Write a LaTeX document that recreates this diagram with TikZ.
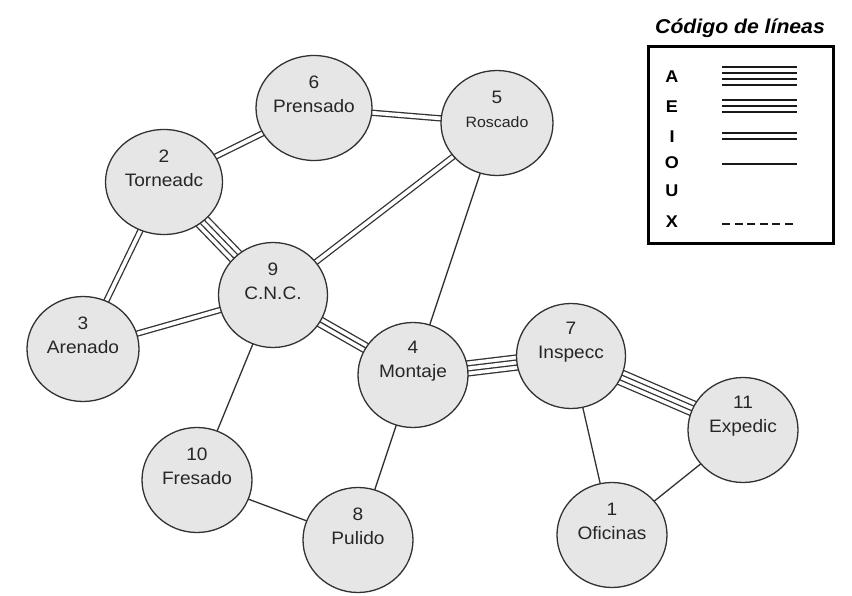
\documentclass[tikz,border=0pt]{standalone}
\usepackage{fontspec}
\setmainfont{Liberation Sans}[FakeStretch=1.06]
\usetikzlibrary{shapes.geometric}
\pgfdeclarelayer{bg}
\pgfdeclarelayer{links}
\pgfsetlayers{bg,links,main}
\definecolor{stationfill}{RGB}{230,230,230}
\definecolor{ink}{RGB}{50,50,50}
\begin{document}
\begin{tikzpicture}[x=1pt,y=-1pt,
  station/.style={ellipse, draw=ink, line width=1.3pt, fill=stationfill,
    minimum width=112pt, minimum height=105pt, inner sep=0pt},
  lbl/.style={align=center, inner sep=0pt, text=black!85,
    font=\fontsize{18}{24}\selectfont, yshift=14pt},
  % one, two, three and four parallel lines (codes O, I, E, A)
  linkO/.style={draw=ink, line width=1.3pt},
  linkI/.style={draw=ink, line width=6.3pt,
    postaction={draw=white, line width=3.7pt}},
  linkE/.style={draw=ink, line width=11.3pt,
    postaction={draw=white, line width=8.7pt},
    postaction={draw=ink, line width=1.3pt}},
  linkA/.style={draw=ink, line width=16.3pt,
    postaction={draw=white, line width=13.7pt},
    postaction={draw=ink, line width=6.3pt},
    postaction={draw=white, line width=3.7pt}},
  key/.style={font=\bfseries\fontsize{17}{20}\selectfont, inner sep=0pt},
  keyline/.style={draw=black!90, line width=1.6pt}
]
\begin{pgfonlayer}{bg}
  \fill[white] (0,0) rectangle (852,596);
\end{pgfonlayer}
\useasboundingbox (0,0) rectangle (852,596);

% stations
\node[station, minimum width=116pt] (n6) at (314,108) {};
\node[station] (n5) at (497,123) {};
\node[station, minimum width=117pt] (n2) at (164,182) {};
\node[station, minimum width=109pt] (n9) at (273,295) {};
\node[station] (n3) at (83,349) {};
\node[station, minimum width=110pt] (n4) at (413,375) {};
\node[station, minimum width=109pt] (n7) at (571,356) {};
\node[station, minimum width=110pt] (n11) at (743,430) {};
\node[station, minimum width=110pt] (n1) at (612,535) {};
\node[station, minimum width=110pt] (n10) at (197,480) {};
\node[station, minimum width=110pt] (n8) at (358,540) {};

\node[lbl] (t6) at (n6.center) {6\\Prensado};
\node[lbl] (t5) at (n5.center) {5\\{\fontsize{15}{18}\selectfont Roscado}};
\node[lbl] (t2) at (n2.center) {2\\Torneadc};
\node[lbl] (t9) at (n9.center) {9\\C.N.C.};
\node[lbl] (t3) at (n3.center) {3\\Arenado};
\node[lbl] (t4) at (n4.center) {4\\Montaje};
\node[lbl] (t7) at (n7.center) {7\\Inspecc};
\node[lbl] (t11) at (n11.center) {11\\Expedic};
\node[lbl] (t1) at (n1.center) {1\\Oficinas};
\node[lbl] (t10) at (n10.center) {10\\Fresado};
\node[lbl] (t8) at (n8.center) {8\\Pulido};

% relationships between stations, drawn beneath the circles
\begin{pgfonlayer}{links}
  \draw[linkI] (n2.center) -- (n6.center);
  \draw[linkI] (n6.center) -- (n5.center);
  \draw[linkI] (n2.center) -- (n3.center);
  \draw[linkI] (n3.center) -- (n9.center);
  \draw[linkI] (n9.center) -- (n5.center);
  \draw[linkA] (n2.center) -- (n9.center);
  \draw[linkE] (n9.center) -- (n4.center);
  \draw[linkA] (n4.center) -- (n7.center);
  \draw[linkA] (n7.center) -- (n11.center);
  \draw[linkO] (n5.center) -- (n4.center);
  \draw[linkO] (n9.center) -- (n10.center);
  \draw[linkO] (n10.center) -- (n8.center);
  \draw[linkO] (n4.center) -- (n8.center);
  \draw[linkO] (n7.center) -- (n1.center);
  \draw[linkO] (n11.center) -- (n1.center);
\end{pgfonlayer}

% line code legend
\node[font=\bfseries\itshape\fontsize{20}{24}\selectfont, inner sep=0pt] (title) at (740,28) {Código de líneas};
\node[draw=black, line width=3pt, minimum width=185pt, minimum height=197pt, inner sep=0pt] (legend) at (740.5,145.5) {};

\node[key] (kA) at (672,77) {A};
\node[key] (kE) at (672,107) {E};
\node[key] (kI) at (672,137) {I};
\node[key] (kO) at (672,163) {O};
\node[key] (kU) at (672,191) {U};
\node[key] (kX) at (672,222) {X};

\foreach \yy in {67,73,79,85} \draw[keyline] (722,\yy) -- (797,\yy);
\foreach \yy in {100,106,112} \draw[keyline] (722,\yy) -- (797,\yy);
\foreach \yy in {133,139} \draw[keyline] (722,\yy) -- (797,\yy);
\draw[keyline] (722,164) -- (797,164);
\draw[keyline, line width=1.3pt, dash pattern=on 8pt off 4.6pt] (722,224) -- (797,224);
\end{tikzpicture}
\end{document}
